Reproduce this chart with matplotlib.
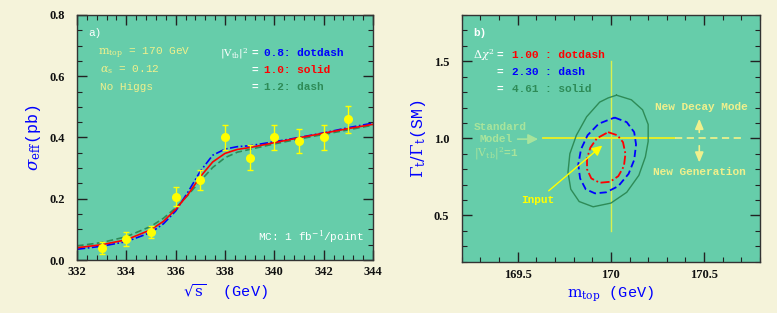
import matplotlib
matplotlib.use("Agg")
import matplotlib.pyplot as plt
from matplotlib.ticker import MultipleLocator
import numpy as np

# ---------------- data: panel a ----------------
sqrt_s = [333, 334, 335, 336, 337, 338, 339, 340, 341, 342, 343]
sigma_pts = [0.038, 0.069, 0.092, 0.207, 0.261, 0.400, 0.334, 0.400, 0.389, 0.400, 0.460]
sigma_err = [0.020, 0.022, 0.020, 0.030, 0.032, 0.040, 0.040, 0.040, 0.040, 0.042, 0.044]

curve_x = [332.0, 333.0, 334.0, 335.0, 335.5, 336.0, 336.5, 337.0, 337.5, 338.0, 338.5,
           339.0, 340.0, 341.0, 342.0, 343.0, 344.0]
curve_vtb08 = [0.035, 0.045, 0.060, 0.090, 0.118, 0.160, 0.222, 0.290, 0.342, 0.362, 0.370,
               0.373, 0.386, 0.400, 0.415, 0.432, 0.447]
curve_vtb10 = [0.040, 0.050, 0.066, 0.099, 0.126, 0.165, 0.214, 0.272, 0.320, 0.348, 0.361,
               0.367, 0.383, 0.399, 0.414, 0.429, 0.443]
curve_vtb12 = [0.046, 0.057, 0.076, 0.110, 0.136, 0.170, 0.212, 0.258, 0.302, 0.334, 0.352,
               0.361, 0.379, 0.395, 0.410, 0.425, 0.440]

# ---------------- data: panel b (contour outlines) ----------------
c100_x = [169.985, 170.035, 170.065, 170.078, 170.070, 170.040, 169.995, 169.940, 169.895,
          169.872, 169.872, 169.890, 169.925, 169.985]
c100_y = [1.040, 1.020, 0.975, 0.900, 0.820, 0.755, 0.718, 0.712, 0.740,
          0.800, 0.870, 0.940, 1.000, 1.040]
c230_x = [170.020, 170.085, 170.125, 170.135, 170.125, 170.095, 170.040, 169.975, 169.915,
          169.865, 169.835, 169.825, 169.840, 169.875, 169.935, 170.020]
c230_y = [1.135, 1.105, 1.040, 0.960, 0.860, 0.770, 0.690, 0.650, 0.643,
          0.670, 0.740, 0.830, 0.930, 1.020, 1.095, 1.135]
c461_x = [170.030, 170.110, 170.170, 170.200, 170.200, 170.185, 170.150, 170.085, 170.000,
          169.905, 169.830, 169.785, 169.770, 169.780, 169.815, 169.870, 169.940, 169.985, 170.030]
c461_y = [1.280, 1.250, 1.185, 1.090, 0.980, 0.880, 0.760, 0.650, 0.580,
          0.556, 0.590, 0.670, 0.780, 0.900, 1.020, 1.140, 1.235, 1.262, 1.280]

# ---------------- style ----------------
FIG_BG = "#f5f3da"
AX_BG = "#66cdaa"
BLUE = "#0000ff"
RED = "#ff0000"
GREEN = "#2e8b57"
YEL = "#ffff00"
PALEYEL = "#f0f08c"
PALEGRN = "#a8e49c"
MONO = "Liberation Mono"
SERIF = "Liberation Serif"

plt.rcParams["mathtext.fontset"] = "dejavuserif"

fig = plt.figure(figsize=(7.77, 3.13), dpi=100, facecolor=FIG_BG)
axa = fig.add_axes([0.0991, 0.1693, 0.381, 0.783])
axb = fig.add_axes([0.5942, 0.164, 0.384, 0.788])


def style_axes(ax):
    ax.set_facecolor(AX_BG)
    for s in ax.spines.values():
        s.set_color("#333333")
        s.set_linewidth(1.0)
    ax.tick_params(which="both", direction="in", top=True, right=True, colors="#222222")
    ax.tick_params(which="major", length=7, width=1.0)
    ax.tick_params(which="minor", length=3.5, width=0.8)
    for lab in ax.get_xticklabels() + ax.get_yticklabels():
        lab.set_fontfamily(SERIF)
        lab.set_fontweight("bold")
        lab.set_fontsize(9)
        lab.set_color("#111111")


# ---------------- panel a ----------------
axa.set_xlim(332, 344)
axa.set_ylim(0, 0.8)
axa.xaxis.set_major_locator(MultipleLocator(2))
axa.xaxis.set_minor_locator(MultipleLocator(0.4))
axa.yaxis.set_major_locator(MultipleLocator(0.2))
axa.yaxis.set_minor_locator(MultipleLocator(0.05))
axa.yaxis.set_major_formatter(plt.FuncFormatter(lambda v, p: f"{v:.1f}"))
style_axes(axa)
axa.tick_params(axis="y", pad=9)
axa.tick_params(axis="x", pad=4)

axa.plot(curve_x, curve_vtb12, color=GREEN, lw=1.2, ls=(0, (4, 2)))
axa.plot(curve_x, curve_vtb08, color=BLUE, lw=1.2, ls=(0, (5, 1.5, 1, 1.5)))
axa.plot(curve_x, curve_vtb10, color=RED, lw=1.2)
axa.errorbar(sqrt_s, sigma_pts, yerr=sigma_err, fmt="o", color=YEL, ms=5.5,
             elinewidth=1.0, capsize=2.5, capthick=1.0, zorder=5)

axa.set_xlabel(r"$\sqrt{\rm s}$  (GeV)", color=BLUE, fontsize=11, family=MONO, labelpad=3)
axa.set_ylabel(r"$\sigma_{\rm eff}$(pb)", color=BLUE, fontsize=12, family=MONO, labelpad=4)

tk = dict(family=MONO, fontsize=8, va="center", ha="left")
axa.text(332.45, 0.742, "a)", color="white", **tk)
axa.text(332.85, 0.675, r"$\mathrm{m_{top}}$ = 170 GeV", color=PALEYEL, **tk)
axa.text(332.95, 0.620, r"$\alpha_{\rm s}$ = 0.12", color=PALEYEL, **tk)
axa.text(332.95, 0.566, "No Higgs", color=PALEYEL, **tk)
axa.text(337.80, 0.675, r"$|\mathrm{V_{tb}}|^2$", color="white", family=MONO, fontsize=7.5,
         va="center", ha="left")
for yy in (0.675, 0.620, 0.566):
    axa.text(339.07, yy, "=", color="white", fontweight="bold", **tk)
axa.text(339.58, 0.675, "0.8: dotdash", color=BLUE, fontweight="bold", **tk)
axa.text(339.58, 0.620, "1.0: solid", color=RED, fontweight="bold", **tk)
axa.text(339.58, 0.566, "1.2: dash", color=GREEN, fontweight="bold", **tk)
axa.text(339.34, 0.076, r"MC: 1 fb$^{-1}$/point", color="white", **tk)

# ---------------- panel b ----------------
axb.set_xlim(169.2, 170.8)
axb.set_ylim(0.2, 1.8)
axb.xaxis.set_major_locator(MultipleLocator(0.5))
axb.xaxis.set_minor_locator(MultipleLocator(0.1))
axb.yaxis.set_major_locator(MultipleLocator(0.5))
axb.yaxis.set_minor_locator(MultipleLocator(0.1))
axb.xaxis.set_major_formatter(plt.FuncFormatter(lambda v, p: f"{v:g}"))
axb.yaxis.set_major_formatter(plt.FuncFormatter(lambda v, p: f"{v:.1f}"))
style_axes(axb)
axb.tick_params(axis="y", pad=9)
axb.tick_params(axis="x", pad=5)

axb.plot([170.0, 170.0], [0.40, 1.50], color="#d8f050", lw=1.0, zorder=2)
axb.plot([169.638, 170.344], [1.0, 1.0], color="#eef020", lw=1.3, zorder=2)
axb.plot([170.344, 170.71], [1.0, 1.0], color="#e8f08c", lw=1.3, ls=(0, (4, 2.5)), zorder=2)

axb.plot(c461_x, c461_y, color=GREEN, lw=1.0, zorder=3)
axb.plot(c230_x, c230_y, color=BLUE, lw=1.3, ls=(0, (4, 2)), zorder=3)
axb.plot(c100_x, c100_y, color=RED, lw=1.3, ls=(0, (5, 1.5, 1, 1.5)), zorder=3)

axb.annotate("", xy=(169.965, 0.965), xytext=(169.655, 0.648),
             arrowprops=dict(arrowstyle="-|>,head_length=0.6,head_width=0.3",
                             color=YEL, lw=1.0), zorder=4)
axb.text(169.61, 0.60, "Input", color=YEL, family=MONO, fontsize=8,
         fontweight="bold", ha="center", va="center")

axb.annotate("", xy=(169.625, 0.995), xytext=(169.485, 0.995),
             arrowprops=dict(arrowstyle="-|>,head_length=0.6,head_width=0.3",
                             color=PALEGRN, lw=1.2))
axb.text(169.266, 1.072, "Standard", color=PALEGRN, family=MONO, fontsize=8,
         fontweight="bold", ha="left", va="center")
axb.text(169.298, 0.993, "Model", color=PALEGRN, family=MONO, fontsize=8,
         fontweight="bold", ha="left", va="center")
axb.text(169.266, 0.903, r"$|\mathrm{V_{tb}}|^2$=1", color=PALEGRN, family=MONO, fontsize=8,
         fontweight="bold", ha="left", va="center")

axb.annotate("", xy=(170.474, 1.145), xytext=(170.474, 1.02),
             arrowprops=dict(arrowstyle="-|>,head_length=0.6,head_width=0.25",
                             color=PALEYEL, lw=1.2))
axb.annotate("", xy=(170.474, 0.825), xytext=(170.474, 0.97),
             arrowprops=dict(arrowstyle="-|>,head_length=0.6,head_width=0.25",
                             color=PALEYEL, lw=1.2))
axb.text(170.487, 1.205, "New Decay Mode", color=PALEYEL, family=MONO, fontsize=8,
         fontweight="bold", ha="center", va="center")
axb.text(170.474, 0.784, "New Generation", color=PALEYEL, family=MONO, fontsize=8,
         fontweight="bold", ha="center", va="center")

tb = dict(family=MONO, fontsize=8, va="center", ha="left", fontweight="bold")
axb.text(169.26, 1.685, "b)", color="white", **tb)
axb.text(169.26, 1.54, r"$\Delta\chi^2$", color="white", **tb)
for yy in (1.54, 1.43, 1.32):
    axb.text(169.385, yy, "=", color="white", **tb)
axb.text(169.47, 1.54, "1.00 : dotdash", color=RED, **tb)
axb.text(169.47, 1.43, "2.30 : dash", color=BLUE, **tb)
axb.text(169.47, 1.32, "4.61 : solid", color=GREEN, **tb)

axb.set_xlabel(r"$\mathrm{m_{top}}$ (GeV)", color=BLUE, fontsize=11, family=MONO, labelpad=3)
axb.set_ylabel(r"$\Gamma_{\rm t}/\Gamma_{\rm t}$(SM)", color=BLUE, fontsize=12, family=MONO,
               labelpad=4)

fig.savefig("out.png", dpi=100, facecolor=FIG_BG)
